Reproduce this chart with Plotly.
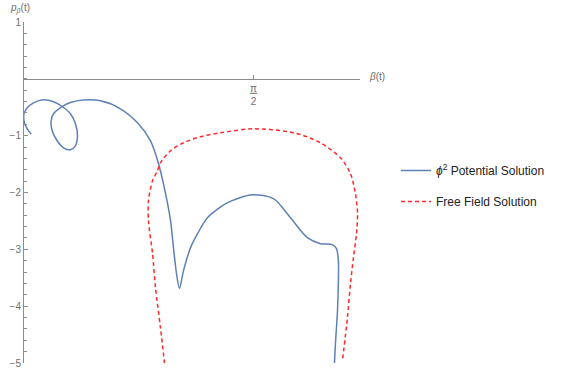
import plotly.graph_objects as go
import math

# ---- data ----
blue_name = "<i>ϕ</i><sup>2</sup> Potential Solution"
red_name = "Free Field Solution"

blue_x = [0.049, 0.022, 0.003, 0.000, 0.022, 0.065, 0.133, 0.202, 0.261, 0.318,
          0.352, 0.366, 0.352, 0.318, 0.270, 0.227, 0.193, 0.186, 0.202, 0.261,
          0.318, 0.407, 0.524, 0.660, 0.777, 0.866, 0.921, 0.969, 1.003, 1.023,
          1.044, 1.064, 1.092, 1.140, 1.188, 1.256, 1.393, 1.564, 1.708, 1.824,
          1.940, 2.029, 2.111, 2.139, 2.152, 2.152, 2.146, 2.132, 2.125]
blue_y = [-0.972, -0.879, -0.773, -0.615, -0.510, -0.422, -0.369, -0.404, -0.487, -0.615,
          -0.791, -1.002, -1.178, -1.248, -1.213, -1.090, -0.914, -0.738, -0.615, -0.487,
          -0.417, -0.374, -0.387, -0.527, -0.773, -1.090, -1.494, -2.021, -2.496, -2.970,
          -3.427, -3.691, -3.374, -2.970, -2.724, -2.443, -2.179, -2.039, -2.109, -2.443,
          -2.794, -2.900, -2.917, -2.988, -3.199, -3.550, -4.077, -4.657, -5.009]

red_x = [0.962, 0.934, 0.900, 0.880, 0.852, 0.852, 0.880, 0.914, 0.934, 1.003,
         1.092, 1.208, 1.345, 1.571, 1.850, 2.029, 2.166, 2.235, 2.269, 2.283,
         2.276, 2.255, 2.235, 2.214, 2.180]
red_y = [-5.009, -4.376, -3.673, -3.076, -2.496, -2.144, -1.793, -1.617, -1.476, -1.265,
         -1.125, -1.019, -0.949, -0.879, -0.950, -1.125, -1.388, -1.670, -2.021, -2.373,
         -2.724, -3.146, -3.603, -4.200, -4.956]

x_tick_vals = [math.pi / 2]
x_tick_text = ["<u>π</u><br>2"]
y_tick_vals = [1, -1, -2, -3, -4, -5]
y_tick_text = ["1", "−1", "−2", "−3", "−4", "−5"]

# ---- layout geometry (page pixels; body margin removed by post_script) ----
W, H = 566, 377
PL, PT, PW, PH = 24, 22, 336, 341          # plot area in page pixels
L, T = PL, PT
R = W - L - PW
B = H - T - PH


def px(xp):
    return (xp - PL) / PW


def py(yp):
    return 1 - (yp - PT) / PH


FONT = "Liberation Sans, Arial, sans-serif"
AX = "#8c8c8c"
LBL = "#6e6e6e"

fig = go.Figure()
fig.add_trace(go.Scatter(x=blue_x, y=blue_y, mode="lines", name=blue_name,
                         line=dict(color="#5E81B5", width=1.5, shape="spline", smoothing=0.8),
                         legendgroup="a"))
fig.add_trace(go.Scatter(x=red_x, y=red_y, mode="lines", name=red_name,
                         line=dict(color="#ff2a2a", width=1.5, shape="spline", smoothing=0.8,
                                   dash="4px,3px"),
                         legendgroup="b"))

fig.update_layout(
    width=W, height=H,
    margin=dict(l=L, r=R, t=T, b=B, pad=0, autoexpand=False),
    paper_bgcolor="white", plot_bgcolor="white",
    font=dict(family=FONT, size=10, color=LBL),
    xaxis=dict(range=[0, 2.30], showgrid=False, zeroline=False, automargin=False,
               anchor="free", position=5 / 6, showline=True, linecolor=AX, linewidth=1,
               tickmode="array", tickvals=x_tick_vals, ticktext=x_tick_text,
               ticks="inside", ticklen=4, tickcolor=AX,
               tickfont=dict(size=10, color=LBL, family=FONT)),
    yaxis=dict(range=[-5, 1], showgrid=False, zeroline=False, automargin=False,
               showline=True, linecolor=AX, linewidth=1,
               tickmode="array", tickvals=y_tick_vals, ticktext=y_tick_text,
               ticks="inside", ticklen=4, tickcolor=AX,
               tickfont=dict(size=10, color=LBL, family=FONT),
               minor=dict(tickmode="linear", tick0=0, dtick=0.2, ticks="inside",
                          ticklen=2.5, tickcolor=AX)),
    showlegend=True,
    legend=dict(x=px(396), y=py(156), xanchor="left", yanchor="top",
                traceorder="grouped", tracegroupgap=12,
                font=dict(family=FONT, size=12, color="#222222"),
                bgcolor="rgba(0,0,0,0)"),
)

fig.add_annotation(x=px(9), y=py(1), xref="paper", yref="paper",
                   text="<i>p</i><sub><i>β</i></sub>(t)", showarrow=False,
                   xanchor="left", yanchor="top", borderpad=0,
                   font=dict(family=FONT, size=10, color=LBL))
fig.add_annotation(x=px(367), y=py(77), xref="paper", yref="paper",
                   text="<i>β</i>(t)", showarrow=False,
                   xanchor="left", yanchor="middle",
                   font=dict(family=FONT, size=10, color=LBL))

fig.write_html("out.html",
               config={"displayModeBar": False},
               post_script="document.body.style.margin='0px';document.body.style.overflow='hidden';")
